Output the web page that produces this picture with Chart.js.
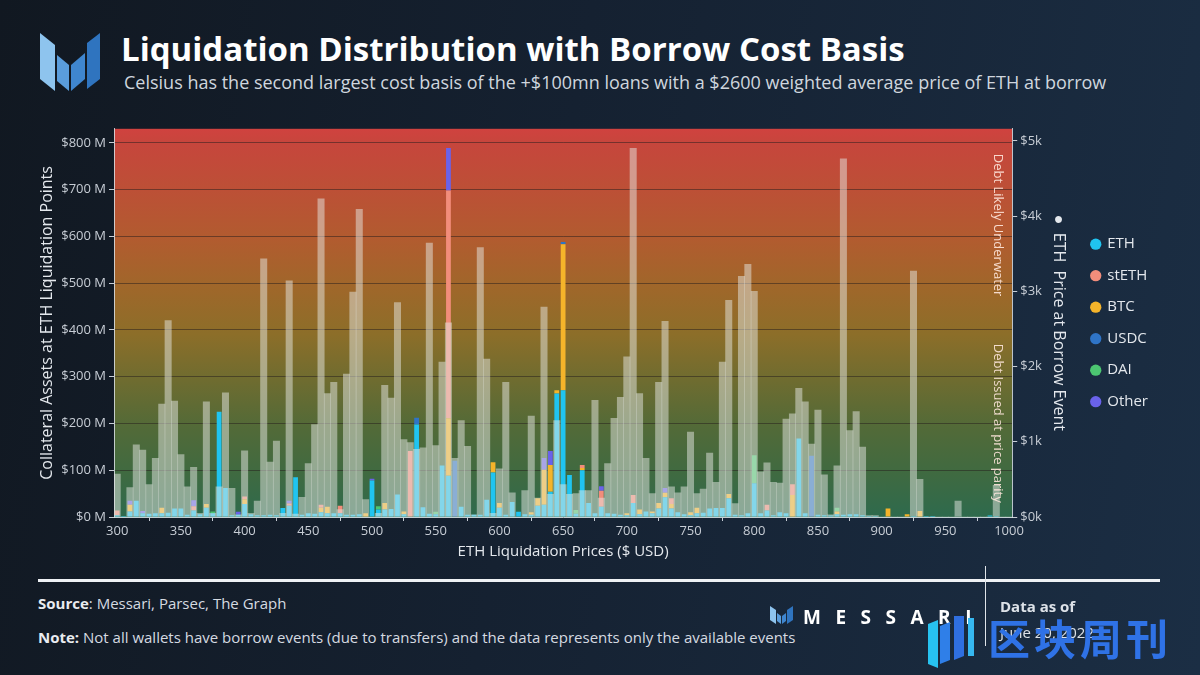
<!DOCTYPE html>
<html>
<head>
<meta charset="utf-8">
<title>Liquidation Distribution with Borrow Cost Basis</title>
<script src="https://cdn.jsdelivr.net/npm/chart.js@4.4.0/dist/chart.umd.min.js"></script>
<style>
  html, body { margin: 0; padding: 0; }
  body {
    width: 1200px; height: 675px; overflow: hidden; position: relative;
    background: linear-gradient(100deg, #111821 0%, #152131 45%, #1b2e44 100%);
    font-family: "Open Sans", sans-serif; color: #e6e9ee;
  }
  .abs { position: absolute; white-space: nowrap; }
  #logo { left: 40px; top: 33px; }
  #title { left: 121px; top: 29px; font-size: 33px; line-height: 40px; font-weight: 700; color: #ffffff; }
  #subtitle { left: 124px; top: 70px; font-size: 18px; line-height: 24px; color: #cfd6de; }
  #chartBox { position: absolute; left: 0; top: 118px; width: 1200px; height: 455px; }
  #rule { left: 38px; top: 579px; width: 1122px; height: 3px; background: #eef1f4; }
  #vrule { left: 985px; top: 566px; width: 1px; height: 80px; background: #dfe4e9; }
  .foot { left: 38px; font-size: 15px; line-height: 20px; color: #d5dae1; }
  .foot b { color: #e9ecf0; }
  #source { top: 593px; }
  #note { top: 627px; }
  #brand { left: 770px; top: 606px; }
  #brandText { left: 803px; top: 605px; font-size: 19px; line-height: 24px; font-weight: 700; color: #ffffff; letter-spacing: 14.5px; }
  #asof { left: 1000px; top: 596px; font-size: 15px; line-height: 20px; font-weight: 700; color: #dde2e8; }
  #asdate { left: 1000px; top: 622px; font-size: 15px; line-height: 20px; color: #dde2e8; }
  #wmIcon { left: 928px; top: 616px; }
  #wmText { left: 988px; top: 612px; font-family: "Noto Sans CJK SC", sans-serif; font-size: 42px; line-height: 50px; font-weight: 700; color: #2f72e6; letter-spacing: 4px; }
</style>
</head>
<body>
<svg id="logo" class="abs" width="62" height="58" viewBox="0 0 62 58">
  <polygon points="0,0 15,12 15,58 0,46" fill="#8ec4ee"/>
  <polygon points="17,22 29,32 29,58 17,48" fill="#5a9ddc"/>
  <polygon points="31,32 45,20 45,46 31,58" fill="#3f86cf"/>
  <polygon points="47,10 60,0 60,46 47,56" fill="#2f74bf"/>
</svg>
<div id="title" class="abs">Liquidation Distribution with Borrow Cost Basis</div>
<div id="subtitle" class="abs">Celsius has the second largest cost basis of the +$100mn loans with a $2600 weighted average price of ETH at borrow</div>

<div id="chartBox"><canvas id="liqChart"></canvas></div>

<div id="rule" class="abs"></div>
<div id="vrule" class="abs"></div>
<div id="source" class="abs foot"><b>Source</b>: Messari, Parsec, The Graph</div>
<div id="note" class="abs foot"><b>Note:</b> Not all wallets have borrow events (due to transfers) and the data represents only the available events</div>
<svg id="brand" class="abs" width="24" height="18" viewBox="0 0 24 18">
  <polygon points="0,0 6,4 6,18 0,14" fill="#8ec4ee"/>
  <polygon points="7,7 11,10 11,18 7,15" fill="#5a9ddc"/>
  <polygon points="12,10 16,7 16,15 12,18" fill="#3f86cf"/>
  <polygon points="17,4 23,0 23,14 17,18" fill="#2f74bf"/>
</svg>
<div id="brandText" class="abs">MESSARI</div>
<div id="asof" class="abs">Data as of</div>
<div id="asdate" class="abs">June 20, 2022</div>
<svg id="wmIcon" class="abs" width="48" height="52" viewBox="0 0 48 52">
  <polygon points="0,8 10,4 10,52 0,48" fill="#27c2f0"/>
  <polygon points="12,10 22,6 22,44 12,48" fill="#2f7fe8"/>
  <polygon points="26,0 36,0 36,40 26,44" fill="#2f6fe0"/>
  <rect x="40" y="2" width="6" height="38" fill="#36b8f0"/>
</svg>
<div id="wmText" class="abs">区块周刊</div>

<script>
// liquidation price bins, $5 wide, 300 .. 1000
const bins = Array.from({ length: 141 }, (_, i) => 300 + i * 5);

// right axis tick values ($)
const priceTicks = [0, 1000, 2000, 3000, 4000, 5000];

// ETH price at borrow event (right axis, $)
const borrowPrice = [
  570, 0, 390, 960, 890, 430, 780, 1500, 2610, 1540,
  830, 400, 660, 50, 1530, 50, 400, 1650, 380, 30,
  880, 50, 210, 3430, 730, 1010, 50, 3140, 40, 260,
  710, 1230, 4230, 1640, 1790, 100, 1900, 2990, 4090, 230,
  0, 50, 1750, 1580, 2850, 1030, 990, 900, 920, 3640,
  950, 2060, 2580, 780, 1280, 940, 30, 3580, 2100, 50,
  640, 1790, 320, 0, 350, 1340, 250, 2790, 300, 1280,
  430, 300, 310, 350, 350, 1550, 250, 710, 1310, 1590,
  2130, 4900, 1640, 780, 310, 1790, 2600, 400, 320, 400,
  1130, 310, 370, 850, 460, 2060, 2880, 180, 3200, 3360,
  3000, 600, 720, 460, 450, 1300, 1370, 1710, 1530, 970,
  1420, 560, 30, 680, 4760, 1150, 1400, 930, 20, 20,
  0, 0, 0, 0, 0, 3270, 500, 0, 0, 0,
  0, 0, 210, 0, 0, 0, 0, 0, 420, 0,
  0
];

// collateral at liquidation point, $M, by asset
const ethCollateral = [
  4, 2, 12, 35, 8, 7, 8, 8, 9, 18,
  18, 5, 14, 6, 20, 8, 225, 62, 4, 5,
  28, 6, 4, 4, 5, 4, 19, 24, 85, 5,
  8, 7, 10, 8, 8, 8, 5, 5, 6, 0,
  78, 16, 16, 17, 48, 6, 0, 198, 21, 7,
  6, 110, 88, 0, 22, 5, 5, 5, 37, 95,
  20, 5, 32, 11, 6, 5, 24, 26, 54, 264,
  271, 90, 7, 100, 30, 8, 22, 8, 7, 5,
  4, 30, 6, 12, 8, 18, 42, 18, 10, 6,
  4, 8, 9, 18, 19, 19, 40, 5, 4, 8,
  72, 8, 14, 4, 10, 8, 0, 168, 8, 0,
  5, 4, 3, 6, 5, 6, 6, 4, 2, 2,
  0, 0, 0, 0, 0, 2, 0, 2, 2, 0,
  0, 0, 0, 0, 0, 0, 0, 3, 2, 0,
  0
];
const stethCollateral = [
  10, 0, 0, 0, 0, 0, 0, 0, 0, 0,
  0, 0, 9, 0, 0, 0, 0, 0, 0, 0,
  6, 0, 0, 0, 0, 0, 0, 5, 0, 0,
  0, 0, 6, 0, 0, 16, 0, 0, 0, 0,
  0, 0, 0, 0, 0, 0, 141, 0, 0, 0,
  0, 0, 487, 0, 0, 0, 0, 0, 0, 0,
  0, 0, 0, 0, 0, 0, 0, 0, 0, 0,
  0, 0, 0, 6, 0, 0, 34, 0, 0, 0,
  0, 17, 0, 0, 0, 0, 0, 12, 0, 0,
  0, 0, 0, 0, 0, 0, 0, 0, 0, 0,
  0, 0, 12, 0, 0, 0, 23, 0, 0, 0,
  0, 0, 0, 0, 0, 0, 0, 0, 0, 0,
  0, 0, 0, 0, 0, 0, 0, 0, 0, 0,
  0, 0, 0, 0, 0, 0, 0, 0, 0, 0,
  0
];
const btcCollateral = [
  0, 0, 14, 0, 0, 0, 0, 12, 0, 0,
  0, 0, 0, 0, 8, 0, 0, 0, 0, 0,
  10, 0, 0, 0, 0, 0, 0, 0, 0, 0,
  0, 0, 10, 14, 0, 0, 0, 0, 0, 8,
  0, 0, 14, 0, 0, 6, 0, 0, 0, 0,
  0, 0, 123, 0, 0, 0, 0, 0, 0, 22,
  10, 0, 0, 0, 0, 5, 16, 75, 57, 7,
  312, 0, 0, 5, 0, 0, 0, 0, 0, 0,
  4, 0, 10, 0, 4, 12, 10, 10, 0, 0,
  6, 12, 0, 0, 0, 0, 9, 0, 0, 0,
  0, 0, 0, 0, 0, 0, 47, 0, 0, 0,
  0, 0, 0, 6, 0, 0, 0, 0, 0, 0,
  0, 18, 0, 0, 6, 0, 13, 0, 0, 0,
  0, 0, 0, 0, 0, 0, 0, 0, 0, 0,
  0
];
const usdcCollateral = [
  0, 0, 0, 0, 0, 0, 0, 0, 0, 0,
  0, 0, 0, 0, 0, 0, 0, 0, 0, 0,
  0, 0, 0, 0, 0, 0, 0, 0, 0, 0,
  0, 0, 0, 0, 0, 0, 0, 0, 0, 0,
  0, 0, 0, 0, 0, 0, 0, 14, 0, 0,
  0, 0, 0, 120, 0, 0, 0, 0, 0, 0,
  0, 0, 0, 0, 0, 0, 0, 0, 0, 0,
  5, 0, 0, 0, 0, 0, 0, 0, 0, 0,
  0, 0, 0, 0, 0, 0, 0, 0, 0, 0,
  0, 0, 0, 0, 0, 0, 0, 0, 0, 0,
  0, 0, 0, 0, 0, 0, 0, 0, 0, 131,
  0, 0, 0, 0, 0, 0, 0, 0, 0, 0,
  0, 0, 0, 0, 0, 0, 0, 0, 0, 0,
  0, 0, 0, 0, 0, 0, 0, 0, 0, 0,
  0
];
const daiCollateral = [
  0, 0, 0, 0, 0, 0, 0, 0, 0, 0,
  0, 0, 0, 0, 0, 4, 0, 0, 0, 0,
  0, 0, 0, 0, 0, 0, 0, 0, 0, 0,
  0, 0, 0, 0, 0, 0, 0, 0, 0, 0,
  0, 7, 0, 0, 0, 0, 0, 0, 0, 0,
  5, 0, 0, 0, 0, 0, 0, 0, 0, 0,
  0, 0, 0, 0, 0, 0, 0, 0, 0, 0,
  0, 0, 8, 0, 0, 0, 0, 0, 0, 0,
  0, 0, 0, 0, 0, 0, 0, 0, 0, 0,
  0, 0, 0, 0, 0, 0, 0, 0, 0, 0,
  60, 0, 0, 0, 0, 0, 0, 0, 0, 0,
  0, 0, 0, 8, 0, 0, 0, 0, 0, 0,
  0, 0, 0, 0, 0, 0, 0, 0, 0, 0,
  0, 0, 0, 0, 0, 0, 0, 0, 0, 0,
  0
];
const otherCollateral = [
  0, 0, 9, 0, 5, 0, 0, 0, 0, 0,
  0, 0, 13, 0, 0, 0, 0, 0, 0, 6,
  0, 0, 0, 0, 0, 0, 0, 6, 0, 0,
  0, 0, 0, 0, 0, 0, 0, 0, 0, 0,
  4, 0, 0, 0, 0, 0, 0, 0, 0, 0,
  0, 0, 91, 0, 0, 0, 0, 0, 0, 0,
  0, 0, 0, 0, 0, 0, 0, 25, 30, 0,
  0, 0, 0, 0, 0, 0, 10, 0, 0, 0,
  0, 0, 0, 0, 0, 0, 10, 0, 0, 0,
  0, 0, 0, 0, 0, 0, 0, 0, 0, 0,
  0, 0, 0, 0, 0, 0, 0, 0, 0, 0,
  0, 0, 0, 0, 0, 0, 0, 0, 0, 0,
  0, 0, 0, 0, 0, 0, 0, 0, 0, 0,
  0, 0, 0, 0, 0, 0, 0, 0, 0, 0,
  0
];

const zoneNotes = ["Debt Likely Underwater", "Debt Issued at price parity"];

const tickColor = "#c7cdd5";
const titleColor = "#e4e8ed";

// red (underwater) to green (parity) band behind the plot, plus the two side notes
const zonePlugin = {
  id: "zones",
  beforeDraw(chart) {
    const { ctx, chartArea: a } = chart;
    const g = ctx.createLinearGradient(0, a.top, 0, a.bottom);
    g.addColorStop(0, "#d0423f");
    g.addColorStop(0.04, "#c6463c");
    g.addColorStop(0.16, "#bc5036");
    g.addColorStop(0.29, "#b15c2f");
    g.addColorStop(0.41, "#9f672a");
    g.addColorStop(0.53, "#8c6e29");
    g.addColorStop(0.65, "#6e6c30");
    g.addColorStop(0.77, "#526a38");
    g.addColorStop(0.89, "#3f6a41");
    g.addColorStop(1, "#2e6a4d");
    ctx.save();
    ctx.fillStyle = g;
    ctx.fillRect(a.left, a.top, a.right - a.left, a.bottom - a.top);
    ctx.restore();
  },
  afterDatasetsDraw(chart) {
    const { ctx, chartArea: a } = chart;
    ctx.save();
    ctx.fillStyle = "rgba(255, 232, 222, 0.9)";
    ctx.font = "13px 'Open Sans'";
    ctx.textBaseline = "middle";
    ctx.textAlign = "left";
    const x = a.right - 15;
    [a.top + 25, a.top + 215].forEach((y, i) => {
      ctx.save();
      ctx.translate(x, y);
      ctx.rotate(Math.PI / 2);
      ctx.fillText(zoneNotes[i], 0, 0);
      ctx.restore();
    });
    ctx.restore();
  },
};

function assetSet(label, data, color, order) {
  return {
    label: label,
    data: data,
    backgroundColor: color,
    borderWidth: 0,
    yAxisID: "y",
    stack: "assets",
    grouped: false,
    barPercentage: 0.75,
    categoryPercentage: 1,
    order: order,
  };
}

Chart.defaults.font.family = "'Open Sans', sans-serif";

new Chart(document.getElementById("liqChart"), {
  type: "bar",
  data: {
    labels: bins,
    datasets: [
      {
        label: "ETH Price at Borrow Event",
        data: borrowPrice,
        backgroundColor: "rgba(230, 232, 228, 0.5)",
        borderWidth: 0,
        yAxisID: "y1",
        grouped: false,
        barPercentage: 1,
        categoryPercentage: 1,
        order: 0,
      },
      assetSet("ETH", ethCollateral, "#20c4f0", 1),
      assetSet("stETH", stethCollateral, "#f28d7b", 3),
      assetSet("BTC", btcCollateral, "#f5b42a", 2),
      assetSet("USDC", usdcCollateral, "#2f74c6", 4),
      assetSet("DAI", daiCollateral, "#4cc671", 5),
      assetSet("Other", otherCollateral, "#6a62ea", 6),
    ],
  },
  options: {
    responsive: true,
    maintainAspectRatio: false,
    animation: false,
    devicePixelRatio: 1,
    layout: { padding: { left: 34, right: 42, top: 10, bottom: 8 } },
    scales: {
      x: {
        type: "category",
        grid: { drawOnChartArea: false, drawTicks: true, tickLength: 4, tickColor: tickColor },
        border: { color: "rgba(215, 228, 232, 0.9)", width: 1 },
        ticks: {
          autoSkip: false,
          maxRotation: 0,
          minRotation: 0,
          padding: 2,
          color: tickColor,
          font: { size: 13 },
          callback: function (value, index) {
            const b = bins[index];
            return b % 50 === 0 ? String(b) : null;
          },
        },
        title: {
          display: true,
          text: "ETH Liquidation Prices ($ USD)",
          color: titleColor,
          font: { size: 15 },
          padding: { top: 4, bottom: 4 },
        },
        afterFit: function (scale) {
          scale.height = 48;
        },
      },
      y: {
        position: "left",
        stacked: true,
        min: 0,
        max: 830,
        grid: { color: "rgba(35, 28, 28, 0.5)", lineWidth: 1, tickLength: 5, tickColor: tickColor },
        border: { color: "rgba(215, 222, 228, 0.85)" },
        ticks: {
          stepSize: 100,
          includeBounds: false,
          padding: 3,
          color: tickColor,
          font: { size: 13 },
          callback: (v) => "$" + v + " M",
        },
        title: {
          display: true,
          text: "Collateral Assets at ETH Liquidation Points",
          color: titleColor,
          font: { size: 16 },
          padding: { top: 4, bottom: 4 },
        },
        afterFit: function (scale) {
          scale.width = 80;
        },
      },
      y1: {
        position: "right",
        min: 0,
        max: 5160,
        grid: { drawOnChartArea: false, tickLength: 5, tickColor: tickColor },
        border: { color: "rgba(215, 222, 228, 0.85)" },
        afterBuildTicks: function (scale) {
          scale.ticks = priceTicks.map((v) => ({ value: v }));
        },
        ticks: {
          padding: 3,
          color: tickColor,
          font: { size: 13 },
          callback: (v) => "$" + v / 1000 + "k",
        },
        title: {
          display: true,
          text: "●  ETH  Price at Borrow Event",
          color: titleColor,
          font: { size: 16 },
          padding: { top: 7, bottom: 4 },
        },
        afterFit: function (scale) {
          scale.width = 63;
        },
      },
    },
    plugins: {
      legend: {
        position: "right",
        align: "center",
        fullSize: false,
        labels: {
          usePointStyle: true,
          pointStyle: "circle",
          boxWidth: 8,
          boxHeight: 8,
          padding: 16.5,
          color: "#e3e7ec",
          font: { size: 15 },
          filter: (item) => item.datasetIndex > 0,
          sort: (a, b) => a.datasetIndex - b.datasetIndex,
        },
      },
      tooltip: { enabled: false },
    },
  },
  plugins: [zonePlugin],
});
</script>
</body>
</html>
